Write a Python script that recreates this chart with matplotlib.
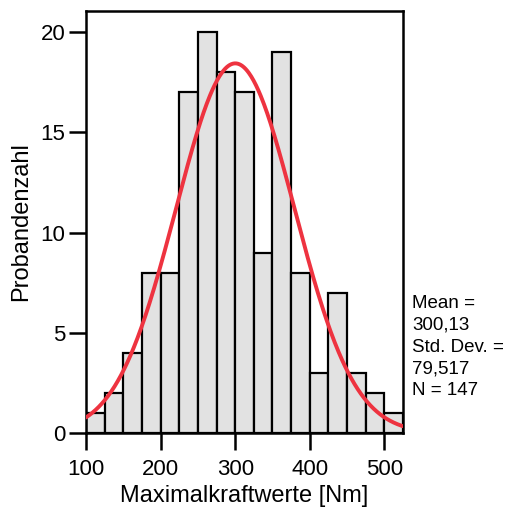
import numpy as np
import matplotlib
matplotlib.use("Agg")
import matplotlib.pyplot as plt

plt.rcParams['font.family'] = ['Liberation Sans', 'DejaVu Sans']

bin_edges = [100, 125, 150, 175, 200, 225, 250, 275, 300, 325, 350, 375, 400, 425, 450, 475, 500, 525]
counts = [1, 2, 4, 8, 8, 17, 20, 18, 17, 9, 19, 8, 3, 7, 3, 2, 1]
mean = 300.13
std = 79.517
n = 147
x_ticks = [100, 200, 300, 400, 500]
y_ticks = [0, 5, 10, 15, 20]

fig = plt.figure(figsize=(5.06, 5.11), dpi=100)
ax = fig.add_axes([86/506, 1-433/511, (403-86)/506, (433-11)/511])

lefts = bin_edges[:-1]
widths = np.diff(bin_edges)
ax.bar(lefts, counts, width=widths, align='edge', color='#e2e2e2',
       edgecolor='black', linewidth=1.6, zorder=2)

xs = np.linspace(bin_edges[0], bin_edges[-1], 400)
bw = bin_edges[1] - bin_edges[0]
ys = n * bw / (std * np.sqrt(2*np.pi)) * np.exp(-0.5*((xs-mean)/std)**2)
ax.plot(xs, ys, color='#ee3340', linewidth=2.8, zorder=3, solid_capstyle='round')

ax.set_xlim(100, 525)
ax.set_ylim(0, 21.05)
ax.set_xticks(x_ticks)
ax.set_yticks(y_ticks)
for s in ax.spines.values():
    s.set_linewidth(1.8)
ax.tick_params(axis='both', direction='out', width=1.8, labelsize=16)
ax.tick_params(axis='x', length=12, pad=7)
ax.tick_params(axis='y', length=12, pad=3)
ax.set_xlabel('Maximalkraftwerte [Nm]', fontsize=17, labelpad=3)
ax.set_ylabel('Probandenzahl', fontsize=17, labelpad=6)

fig.text(412/506, 1-347/511, 'Mean =\n300,13\nStd. Dev. =\n79,517\nN = 147',
         fontsize=13.5, va='center', ha='left', linespacing=1.36)

fig.savefig('out.png', dpi=100)
